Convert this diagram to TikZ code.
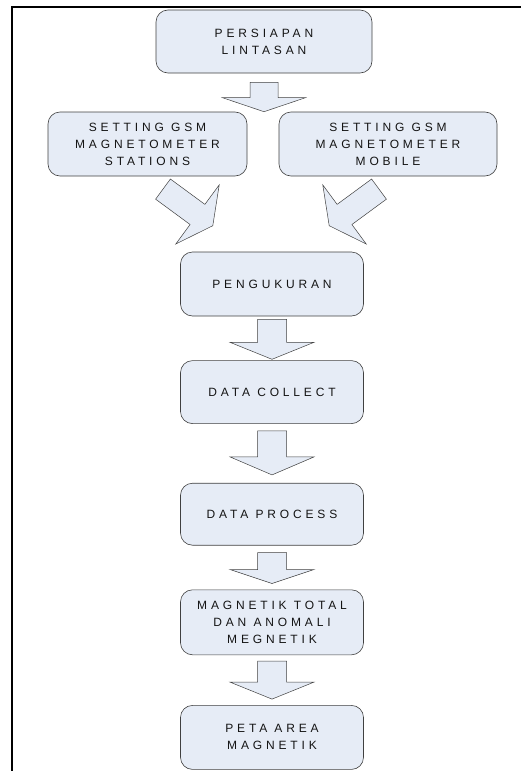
\documentclass[tikz,border=0pt]{standalone}
\usepackage{fontspec}
\newfontfamily\boxfont[LetterSpace=32]{Liberation Sans}
\usepackage{tikz}
\usetikzlibrary{positioning, calc}

\definecolor{boxfill}{RGB}{230,236,246}
\definecolor{boxline}{RGB}{64,64,64}
\definecolor{boxtext}{RGB}{20,20,20}

\tikzset{
	stepbox/.style={draw=boxline, fill=boxfill, line width=0.6pt, rounded corners=12pt, align=center, text=boxtext, font=\boxfont\fontsize{12}{17}\selectfont},
	blockarr/.style={draw=boxline, fill=boxfill, line width=0.5pt},
}

\newcommand{\blockarrow}[5]{%
	\coordinate (hb) at ($(#2)!#5!(#1)$);
	\draw[blockarr] ($(#1)!#3!90:(#2)$) -- ($(hb)!#3!90:(#2)$) -- ($(hb)!#4!90:(#2)$) -- (#2)
		-- ($(hb)!#4!-90:(#2)$) -- ($(hb)!#3!-90:(#2)$) -- ($(#1)!#3!-90:(#2)$) -- cycle;
}

\begin{document}
\begin{tikzpicture}[x=1pt, y=-1pt]
	\useasboundingbox (0,0) rectangle (521,771);
	\draw[line width=2.4pt] (12,771) -- (12,6.7) -- (521,6.7);

	\node[stepbox, minimum width=216pt, minimum height=63pt]	(persiapan)	at (264,41.5)		{PERSIAPAN\\LINTASAN};
	\node[stepbox, minimum width=199pt, minimum height=64pt]	(gsmstation)	at (147.5,144)		{SETTING GSM\\MAGNETOMETER\\STATIONS};
	\node[stepbox, minimum width=218pt, minimum height=64pt]	(gsmmobile)	at (388,144)		{SETTING GSM\\MAGNETOMETER\\MOBILE};
	\node[stepbox, minimum width=183pt, minimum height=64pt]	(ukur)		at (272,284)		{PENGUKURAN};
	\node[stepbox, minimum width=183pt, minimum height=63pt]	(collect)	[below=44pt of ukur]	{DATA COLLECT};
	\node[stepbox, minimum width=183pt, minimum height=62pt]	(process)	[below=59pt of collect]	{DATA PROCESS};
	\node[stepbox, minimum width=183pt, minimum height=65pt]	(total)		[below=44pt of process]	{MAGNETIK TOTAL\\DAN ANOMALI\\MEGNETIK};
	\node[stepbox, minimum width=183pt, minimum height=64pt]	(peta)		[below=50pt of total]	{PETA AREA\\MAGNETIK};

	\coordinate (a1t) at ([yshift=-9pt]persiapan.south);
	\coordinate (a1p) at (persiapan.south |- gsmstation.north);
	\coordinate (a2t) at ([shift={(15.5pt,-12.8pt)}]gsmstation.south);
	\coordinate (a2p) at ([shift={(32.6pt,26pt)}]ukur.north west);
	\coordinate (a3t) at ([shift={(-9pt,-12.8pt)}]gsmmobile.south);
	\coordinate (a3p) at ([shift={(-34.6pt,26pt)}]ukur.north east);
	\coordinate (a4t) at ([yshift=-3pt]ukur.south);
	\coordinate (a4p) at ([yshift=1pt]collect.north);
	\coordinate (a5t) at ([yshift=-7pt]collect.south);
	\coordinate (a5p) at ([yshift=8pt]process.north);
	\coordinate (a6t) at ([yshift=-7pt]process.south);
	\coordinate (a6p) at ([yshift=6pt]total.north);
	\coordinate (a7t) at ([yshift=-6pt]total.south);
	\coordinate (a7p) at ([yshift=6pt]peta.north);

	\blockarrow{a1t}{a1p}{14pt}{41.5pt}{14pt}
	\blockarrow{a2t}{a2p}{12.5pt}{36.7pt}{19pt}
	\blockarrow{a3t}{a3p}{12.5pt}{36.7pt}{19pt}
	\blockarrow{a4t}{a4p}{14.5pt}{42pt}{17pt}
	\blockarrow{a5t}{a5p}{14.5pt}{42pt}{18pt}
	\blockarrow{a6t}{a6p}{14.5pt}{42pt}{14pt}
	\blockarrow{a7t}{a7p}{14.5pt}{42pt}{17pt}
\end{tikzpicture}
\end{document}
